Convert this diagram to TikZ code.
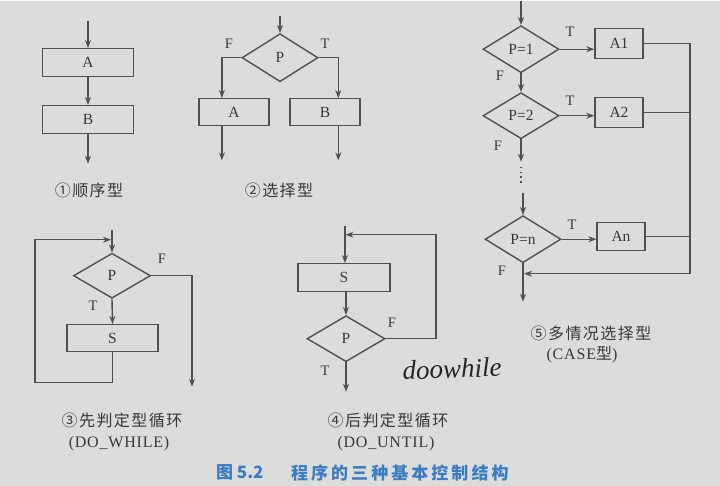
\documentclass[tikz,border=0pt]{standalone}
\usepackage{fontspec}
\setmainfont{Liberation Serif}
\newfontfamily\cjk{Noto Sans CJK SC}
\usetikzlibrary{shapes.geometric,arrows.meta,calc}
\definecolor{bg}{HTML}{DCDCDA}
\definecolor{lc}{HTML}{505050}
\definecolor{tc}{HTML}{383838}
\definecolor{capblue}{HTML}{3B7DC2}
\begin{document}
\begin{tikzpicture}[x=1pt,y=-1pt, line width=1.4pt, >={Stealth[length=8pt,width=6pt]},
  every node/.style={text=tc, font=\fontsize{15.5}{17}\selectfont},
  rbox/.style={draw=lc, rectangle, inner sep=0pt, minimum height=28pt},
  dia/.style={draw=lc, diamond, inner sep=0pt, aspect=1.6, minimum width=77pt, minimum height=47pt},
  lbl/.style={font=\fontsize{14.5}{16}\selectfont},
  captxt/.style={font=\cjk\fontsize{16}{18}\selectfont\addfontfeature{LetterSpace=9}},
  capen/.style={font=\fontsize{16}{18}\selectfont\addfontfeature{LetterSpace=5}},
  conn/.style={draw=lc}]
\fill[bg] (0,0) rectangle (720,485);

% ---------- 1 sequence
\node[rbox, minimum width=91pt] (sA) at (88,62) {A};
\node[rbox, minimum width=91pt] (sB) at (88,119) {B};
\coordinate (sIn) at (88,20);
\coordinate (sOut) at (88,163);
\draw[conn,->] (sIn) -- (sA);
\draw[conn,->] (sA) -- (sB);
\draw[conn,->] (sB) -- (sOut);
\node[captxt] (cap1) at (89,190) {①顺序型};

% ---------- 2 selection
\node[dia, minimum width=76pt, minimum height=48pt] (cP) at (280,57) {P};
\node[rbox, minimum width=70pt, minimum height=27pt] (cA) at (234,111.5) {A};
\node[rbox, minimum width=70pt, minimum height=27pt] (cB) at (325,111.5) {B};
\coordinate (cIn) at (280,15);
\coordinate (cAt) at ($(cA.north west)!0.33!(cA.north east)$);
\coordinate (cBt) at ($(cB.north west)!0.686!(cB.north east)$);
\coordinate (cAb) at ($(cA.south west)!0.33!(cA.south east)$);
\coordinate (cBb) at ($(cB.south west)!0.686!(cB.south east)$);
\coordinate (cAo) at ($(cAb)+(0,34)$);
\coordinate (cBo) at ($(cBb)+(0,34)$);
\draw[conn,->] (cIn) -- (cP.north);
\draw[conn,->] (cP.west) -| (cAt);
\draw[conn,->] (cP.east) -| (cBt);
\draw[conn,->] (cAb) -- (cAo);
\draw[conn,->] (cBb) -- (cBo);
\node[lbl] (cF) at (229,43) {F};
\node[lbl] (cT) at (325,43) {T};
\node[captxt] (cap2) at (279,190) {②选择型};

% ---------- 3 do-while
\node[dia, minimum width=77pt, minimum height=45pt] (wP) at (112,275) {P};
\node[rbox, minimum width=91pt, minimum height=27pt] (wS) at (112.5,337.5) {S};
\coordinate (wIn) at (112,229);
\coordinate (wJoin) at (111,239);
\coordinate (wBL) at (35,382);
\coordinate (wOut) at (192,386);
\draw[conn,->] (wIn) -- (wP.north);
\draw[conn,->] (wP.south) -- (wS.north);
\draw[conn,->] (wS.south) |- (wBL) |- (wJoin);
\draw[conn,->] (wP.east) -| (wOut);
\node[lbl] (wF) at (162,258) {F};
\node[lbl] (wT) at (93,305) {T};
\node[captxt] (cap3) at (122,420) {③先判定型循环};
\node[capen] (cap3b) at (119,443) {(DO\_WHILE)};

% ---------- 4 do-until
\node[rbox, minimum width=92pt, minimum height=28pt] (uS) at (344,277) {S};
\node[dia, minimum width=78pt, minimum height=46pt] (uP) at (346,338) {P};
\coordinate (uIn) at (345,225);
\coordinate (uTR) at (436,234);
\coordinate (uJoin) at (345.5,234);
\coordinate (uOut) at (346,391);
\draw[conn,->] (uIn) -- (uS.north -| uIn);
\draw[conn,->] (uS.south -| uP.north) -- (uP.north);
\draw[conn,->] (uP.east) -| (uTR) -- (uJoin);
\draw[conn,->] (uP.south) -- (uOut);
\node[lbl] (uF) at (392,322) {F};
\node[lbl] (uT) at (325,370) {T};
\node[captxt] (cap4) at (388,420) {④后判定型循环};
\node[capen] (cap4b) at (386,443) {(DO\_UNTIL)};
\node[font=\itshape\fontsize{27}{29}\selectfont, text=black!85, rotate=2] (hw) at (452,368) {doowhile};

% ---------- 5 case
\node[dia, minimum width=76pt, minimum height=47pt] (k1) at (521,48.5) {P=1};
\node[dia, minimum width=76pt, minimum height=46pt] (k2) at (521,115) {P=2};
\node[dia, minimum width=76pt, minimum height=47pt] (kn) at (523,238.5) {P=n};
\node[rbox, minimum width=48pt, minimum height=30pt] (a1) at (619,43) {A1};
\node[rbox, minimum width=48pt, minimum height=30pt] (a2) at (619,112) {A2};
\node[rbox, minimum width=48pt, minimum height=28pt] (an) at (621,236) {An};
\coordinate (kIn) at (521,0);
\coordinate (k2o) at (521,161);
\coordinate (dotA) at (521,166);
\coordinate (dotB) at (521,182);
\coordinate (knIn) at (523,192);
\coordinate (r1) at (690,43);
\coordinate (r2) at (690,112);
\coordinate (rn) at (690,236);
\coordinate (rb) at (690,273);
\coordinate (kJoin) at (524,273);
\coordinate (kOut) at (523,301);
\draw[conn,->] (kIn) -- (k1.north);
\draw[conn,->] (k1.east) -- (k1.east -| a1.west);
\draw[conn,->] (k2.east) -- (k2.east -| a2.west);
\draw[conn,->] (kn.east) -- (kn.east -| an.west);
\draw[conn,->] (k1.south) -- (k2.north);
\draw[conn,->] (k2.south) -- (k2o);
\draw[conn, dash pattern=on 1.6pt off 3.2pt] (dotA) -- (dotB);
\draw[conn,->] (knIn) -- (kn.north);
\draw[conn] (a1.east) -- (r1) -- (rb);
\draw[conn] (a2.east) -- (r2);
\draw[conn] (an.east) -- (rn);
\draw[conn,->] (rb) -- (kJoin);
\draw[conn,->] (kn.south) -- (kOut);
\node[lbl] (t1) at (570,31) {T};
\node[lbl] (t2) at (570,100) {T};
\node[lbl] (tn) at (572,224) {T};
\node[lbl] (f1) at (500,75) {F};
\node[lbl] (f2) at (498,145) {F};
\node[lbl] (fn) at (502,270) {F};
\node[captxt] (cap5) at (591,333) {⑤多情况选择型};
\node[capen] (cap5b) at (582,354) {(CASE{\cjk 型})};

% ---------- figure caption
\node[font=\cjk\bfseries\fontsize{17}{19}\selectfont, text=capblue, anchor=west] (figno) at (212,472) {图 5.2};
\node[font=\cjk\bfseries\fontsize{17}{19}\selectfont\addfontfeature{LetterSpace=18}, text=capblue, anchor=west] (figtitle) at (287,472) {程序的三种基本控制结构};
\end{tikzpicture}
\end{document}
